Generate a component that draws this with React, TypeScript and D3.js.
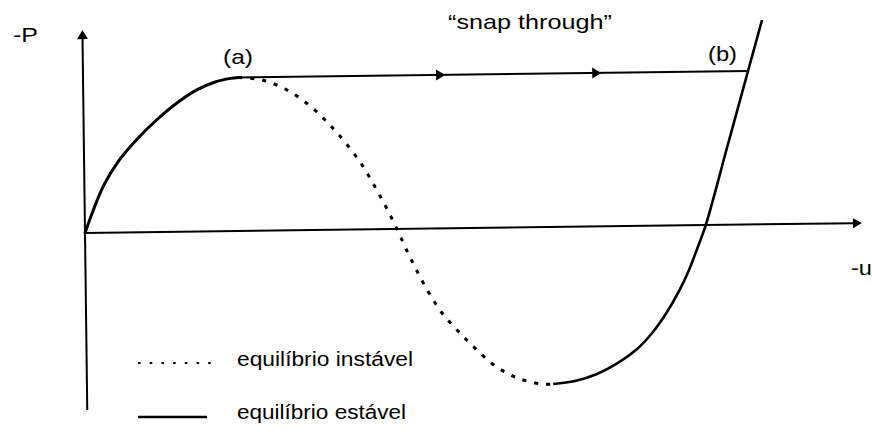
import React from 'react';
import * as d3 from 'd3';

const W = 872;
const H = 437;

// Displacement -u (arbitrary units) and load -P (normalised by the snap-through load).
// Stable branch rising from the origin up to the limit point (a).
const stableLeftU = [0, 0.1, 0.25, 0.45, 0.7, 0.95, 1.2, 1.45, 1.7, 1.9, 2.0];
const stableLeftP = [0, 0.135, 0.31, 0.47, 0.615, 0.735, 0.838, 0.92, 0.973, 0.995, 1.0];

// Unstable branch from (a) down to the lower limit point.
const unstableU = [2.0, 2.304, 2.623, 2.903, 3.133, 3.349, 3.577, 3.74, 3.878, 4.015, 4.153, 4.279, 4.417, 4.582, 4.784, 5.0, 5.242, 5.511, 5.832, 6.0];
const unstableP = [1.0, 0.982, 0.915, 0.815, 0.703, 0.578, 0.42, 0.276, 0.144, 0, -0.157, -0.289, -0.42, -0.551, -0.67, -0.782, -0.894, -0.974, -1.021, -1.023];

// Stable branch after the lower limit point, passing through (b).
const stableRightU = [6.0, 6.282, 6.566, 6.838, 7.085, 7.293, 7.477, 7.636, 7.767, 7.874, 7.99, 8.275, 8.559, 8.748];
const stableRightP = [-1.023, -1.005, -0.961, -0.891, -0.802, -0.692, -0.563, -0.427, -0.291, -0.155, 0, 0.5, 1.0, 1.331];

// Snap-through jump at constant load from (a) to (b).
const snapLoad = 1.0;
const snapFromU = 2.0;
const snapToU = 8.559;
const snapArrowU = [4.66, 6.67];

// Axis extents.
const uAxisMax = 10;
const pAxisMin = -1.153;
const pAxisMax = 1.322;

const axisLabelP = '-P';
const axisLabelU = '-u';
const pointLabels = ['(a)', '(b)'];
const snapLabel = '\u201Csnap through\u201D';
const legendLabels = ['equilíbrio instável', 'equilíbrio estável'];

const FONT = '"Liberation Sans", Arial, Helvetica, sans-serif';

export default function App() {
  const originX = 85;
  const originY = 233;
  const tilt = -0.733;

  const x = d3.scaleLinear().domain([0, uAxisMax]).range([0, 777]);
  const y = d3.scaleLinear().domain([0, 1]).range([0, -153.5]);

  const zip = (us: number[], ps: number[]) => us.map((u, i) => [u, ps[i]] as [number, number]);

  const smooth = d3
    .line<[number, number]>()
    .x((d) => x(d[0]))
    .y((d) => y(d[1]))
    .curve(d3.curveCatmullRom.alpha(0.5));

  const leftPath = smooth(zip(stableLeftU, stableLeftP)) || '';
  const unstablePath = smooth(zip(unstableU, unstableP)) || '';
  const rightPath = smooth(zip(stableRightU, stableRightP)) || '';

  const ax = x(uAxisMax);
  const ayTop = y(pAxisMax);
  const ayBot = y(pAxisMin);

  return (
    <svg
      width={W}
      height={H}
      viewBox={`0 0 ${W} ${H}`}
      style={{ position: 'absolute', left: 0, top: 0, background: '#fff' }}
    >
      <rect width={W} height={H} fill="#fff" />
      <g transform={`translate(${originX},${originY}) rotate(${tilt})`}>
        {/* axes */}
        <line x1={0} y1={ayBot} x2={0} y2={ayTop + 8} stroke="#000" strokeWidth={2} />
        <path d={`M0,${ayTop} L-5.5,${ayTop + 9} L5.5,${ayTop + 9} Z`} fill="#000" />
        <line x1={0} y1={0} x2={ax - 8} y2={0} stroke="#000" strokeWidth={2} />
        <path d={`M${ax},0 L${ax - 9},-5 L${ax - 9},5 Z`} fill="#000" />

        {/* snap-through path */}
        <line
          x1={x(snapFromU)}
          y1={y(snapLoad)}
          x2={x(snapToU)}
          y2={y(snapLoad)}
          stroke="#000"
          strokeWidth={2}
        />
        {snapArrowU.map((u, i) => (
          <path
            key={i}
            d={`M${x(u)},${y(snapLoad)} L${x(u) - 9},${y(snapLoad) - 5.5} L${x(u) - 9},${y(snapLoad) + 5.5} Z`}
            fill="#000"
          />
        ))}

        {/* equilibrium branches */}
        <path d={leftPath} fill="none" stroke="#000" strokeWidth={3} strokeLinecap="round" />
        <path
          d={unstablePath}
          fill="none"
          stroke="#000"
          strokeWidth={3}
          strokeDasharray="4 8"
        />
        <path d={rightPath} fill="none" stroke="#000" strokeWidth={2.6} />
      </g>

      {/* labels */}
      <g fontFamily={FONT} fill="#000">
        <text x={13} y={42} fontSize={20} textLength={25} lengthAdjust="spacingAndGlyphs">
          {axisLabelP}
        </text>
        <text x={851} y={275} fontSize={20} textLength={21} lengthAdjust="spacingAndGlyphs">
          {axisLabelU}
        </text>
        <text x={223} y={64} fontSize={21} textLength={30} lengthAdjust="spacingAndGlyphs">
          {pointLabels[0]}
        </text>
        <text x={708} y={61} fontSize={21} textLength={29} lengthAdjust="spacingAndGlyphs">
          {pointLabels[1]}
        </text>
        <text x={448} y={29} fontSize={21} textLength={164} lengthAdjust="spacingAndGlyphs">
          {snapLabel}
        </text>
      </g>

      {/* legend */}
      <g fontFamily={FONT} fill="#000">
        <line x1={138} y1={363} x2={211} y2={363} stroke="#000" strokeWidth={2.2} strokeDasharray="2.6 9.1" />
        <line x1={138} y1={417} x2={207} y2={417} stroke="#000" strokeWidth={2.4} />
        <text x={237} y={366} fontSize={20} textLength={176} lengthAdjust="spacingAndGlyphs">
          {legendLabels[0]}
        </text>
        <text x={237} y={419} fontSize={20} textLength={169} lengthAdjust="spacingAndGlyphs">
          {legendLabels[1]}
        </text>
      </g>
    </svg>
  );
}
